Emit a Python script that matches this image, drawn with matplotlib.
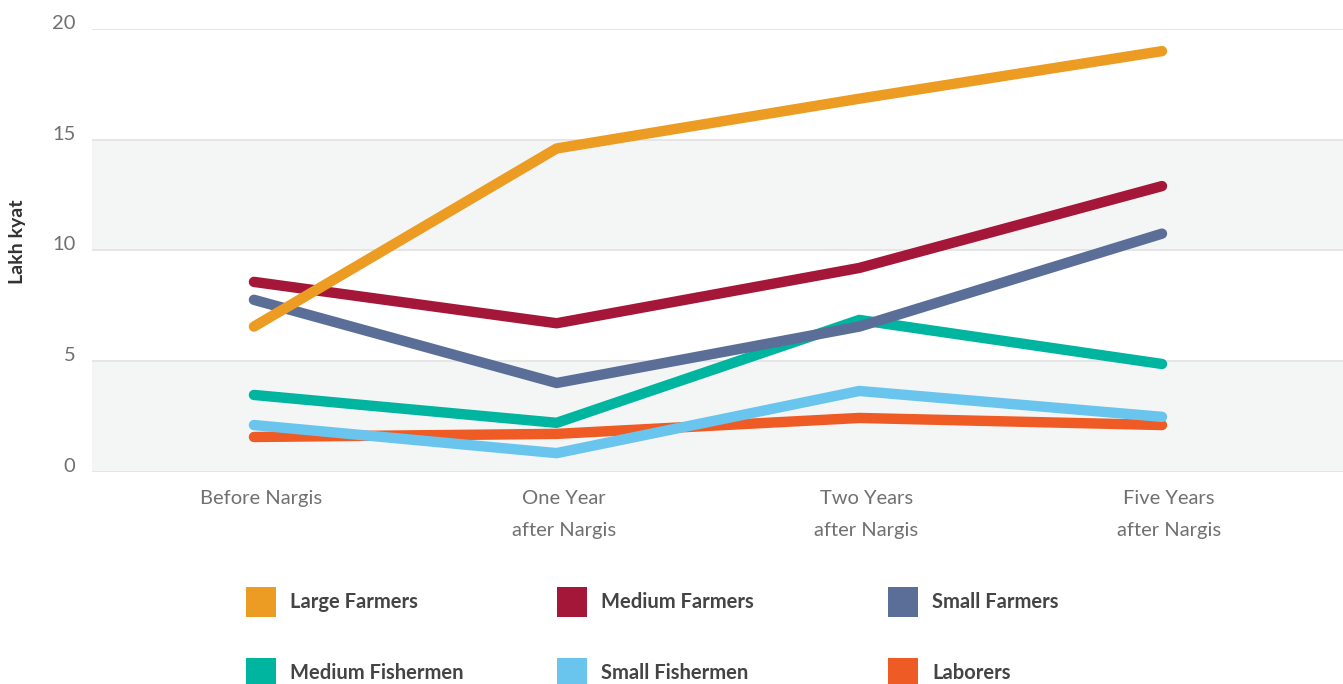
import matplotlib.pyplot as plt
from matplotlib.patches import Rectangle
from matplotlib.transforms import ScaledTranslation

# 数据
periods = ['Before Nargis', 'One Year\nafter Nargis', 'Two Years\nafter Nargis', 'Five Years\nafter Nargis']
large_farmers = [6.55, 14.6, 16.85, 19.0]
medium_farmers = [8.57, 6.7, 9.2, 12.9]
small_farmers = [7.76, 4.0, 6.55, 10.75]
medium_fishermen = [3.46, 2.2, 6.85, 4.86]
small_fishermen = [2.1, 0.83, 3.64, 2.47]
laborers = [1.56, 1.7, 2.42, 2.1]

series = [
    ('Large Farmers', large_farmers, '#EC9C22'),
    ('Medium Farmers', medium_farmers, '#A51739'),
    ('Small Farmers', small_farmers, '#5A6E97'),
    ('Medium Fishermen', medium_fishermen, '#00B5A0'),
    ('Small Fishermen', small_fishermen, '#6AC5EE'),
    ('Laborers', laborers, '#EE5B24'),
]

plt.rcParams['font.family'] = ['Lato', 'DejaVu Sans']

fig = plt.figure(figsize=(13.43, 6.84), dpi=100)
W, H = 1343, 684
ax = fig.add_axes([92 / W, 1 - 471.5 / H, 1 - 92 / W, (471.5 - 29) / H])

x = list(range(len(periods)))

# 背景色带和网格线
for lo, hi in [(0, 5), (10, 15)]:
    ax.axhspan(lo, hi, color='#F4F6F5', zorder=0, lw=0)
for yv in [0, 5, 10, 15, 20]:
    ax.axhline(yv, color='#E2E2E2', lw=1.2, zorder=1)

# 折线（倒序绘制，使前面的系列在上层）
for name, vals, color in reversed(series):
    ax.plot(x, vals, color=color, lw=7.5, solid_capstyle='round',
            solid_joinstyle='round', zorder=3)

ax.set_xlim(-0.535, 3.598)
ax.set_ylim(0, 20)
ax.set_yticks([0, 5, 10, 15, 20])
ax.set_xticks(x)
ax.set_xticklabels(periods, fontsize=14.5, color='#707070', linespacing=2.1)
ax.tick_params(axis='both', length=0)
ax.tick_params(axis='y', pad=12, labelsize=14.5, labelcolor='#707070')
ax.tick_params(axis='x', pad=13)
for lbl in ax.get_yticklabels():
    lbl.set_va('baseline')
for lbl in ax.get_xticklabels():
    lbl.set_transform(lbl.get_transform() + ScaledTranslation(7 / 100, 0, fig.dpi_scale_trans))
for s in ax.spines.values():
    s.set_visible(False)

fig.text(18 / W, 1 - 242 / H, 'Lakh kyat', rotation=90, ha='center', va='center',
         fontsize=14, fontweight='bold', color='#333333')

# 图例
cols = [246, 557, 888]
rows = [602, 673]
for i, (name, vals, color) in enumerate(series):
    cx = cols[i % 3]
    cy = rows[i // 3]
    fig.add_artist(Rectangle((cx / W, 1 - (cy + 15) / H), 30 / W, 30 / H,
                             transform=fig.transFigure, color=color, lw=0))
    fig.text((cx + 44) / W, 1 - cy / H, name, ha='left', va='center',
             fontsize=14.5, fontweight='bold', color='#444444')

fig.savefig('out.png', dpi=100)
